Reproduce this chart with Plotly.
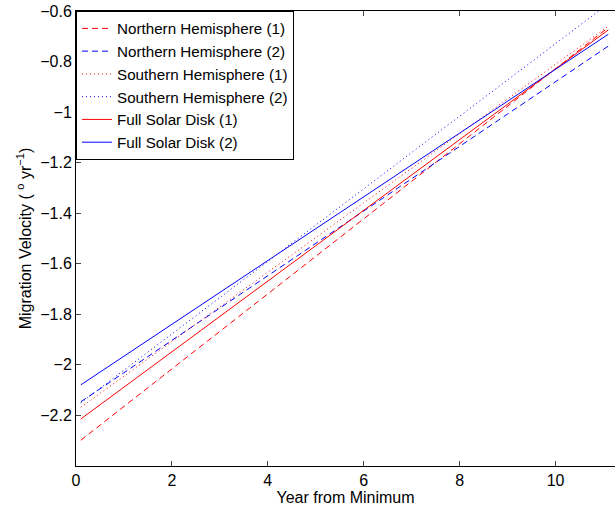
import plotly.graph_objects as go

# Series names (legend order)
names = ["Northern Hemisphere (1)", "Northern Hemisphere (2)",
         "Southern Hemisphere (1)", "Southern Hemisphere (2)",
         "Full Solar Disk (1)", "Full Solar Disk (2)"]

# Line endpoints (year, velocity)
x_n1 = [0.1, 11.1];  y_n1 = [-2.298, -0.665]
x_n2 = [0.1, 11.1];  y_n2 = [-2.146, -0.739]
x_s1 = [0.1, 11.1];  y_s1 = [-2.168, -0.660]
x_s2 = [0.1, 10.9];  y_s2 = [-2.150, -0.600]
x_f1 = [0.1, 11.1];  y_f1 = [-2.214, -0.675]
x_f2 = [0.1, 11.1];  y_f2 = [-2.079, -0.692]

x_ticks = [0, 2, 4, 6, 8, 10]
y_ticks = [-2.2, -2, -1.8, -1.6, -1.4, -1.2, -1, -0.8, -0.6]
y_ticklabels = ["\u22122.2", "\u22122", "\u22121.8", "\u22121.6", "\u22121.4",
                "\u22121.2", "\u22121", "\u22120.8", "\u22120.6"]

series = [
    (x_n1, y_n1, "red", "6px,4px"),
    (x_n2, y_n2, "blue", "6px,4px"),
    (x_s1, y_s1, "red", "1px,3px"),
    (x_s2, y_s2, "blue", "1px,3px"),
    (x_f1, y_f1, "red", "solid"),
    (x_f2, y_f2, "blue", "solid"),
]

fig = go.Figure()
for name, (xs, ys, col, dash) in zip(names, series):
    fig.add_trace(go.Scatter(x=xs, y=ys, mode="lines", name=name,
                             line=dict(color=col, width=1, dash=dash)))

font_family = "Liberation Sans, Arial, Helvetica, sans-serif"
fs = 16
fig.update_layout(
    width=615, height=506,
    margin=dict(l=76, r=0, t=11, b=40),
    paper_bgcolor="white", plot_bgcolor="white",
    font=dict(family=font_family, size=fs, color="black"),
    showlegend=True,
    legend=dict(x=0, y=1, xanchor="left", yanchor="top",
                bordercolor="black", borderwidth=1, bgcolor="white",
                font=dict(size=15.2), tracegroupgap=0,
                itemwidth=30),
    xaxis=dict(range=[0, 11.24], tickvals=x_ticks, ticktext=[str(v) for v in x_ticks],
               showgrid=False, zeroline=False, showline=True, linecolor="black",
               linewidth=1, mirror="ticks", ticks="inside", ticklen=5,
               tickcolor="#444", tickfont=dict(size=fs),
               title=dict(text="Year from Minimum", font=dict(size=fs), standoff=0)),
    yaxis=dict(range=[-2.4, -0.6], tickvals=y_ticks, ticktext=y_ticklabels,
               showgrid=False, zeroline=False, showline=True, linecolor="black",
               linewidth=1, ticks="inside", ticklen=5, tickcolor="#444",
               tickfont=dict(size=fs),
               title=dict(text="Migration Velocity ( <sup>o</sup> yr<sup>\u22121</sup>)",
                          font=dict(size=fs), standoff=4)),
)

fig.write_html("out.html")
